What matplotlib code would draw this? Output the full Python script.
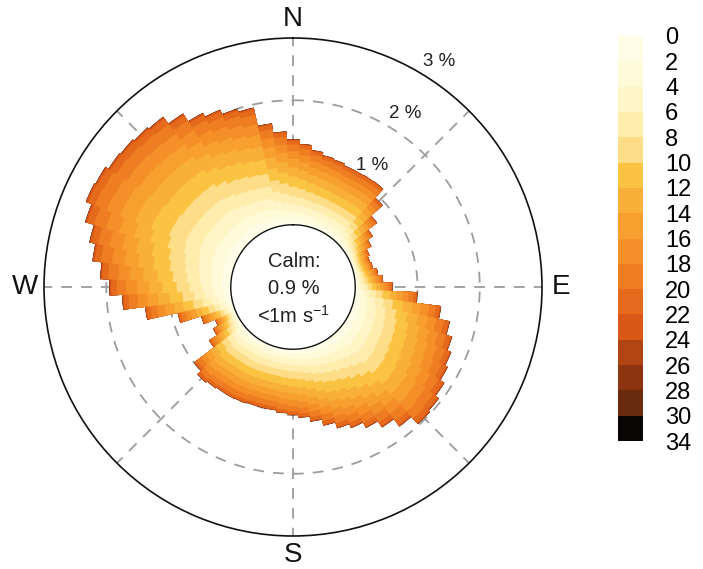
import numpy as np
import matplotlib
matplotlib.use('Agg')
import matplotlib.pyplot as plt

plt.rcParams['font.family'] = ['Liberation Sans', 'DejaVu Sans']
plt.rcParams['mathtext.fontset'] = 'custom'
plt.rcParams['mathtext.rm'] = 'Liberation Sans'
plt.rcParams['mathtext.it'] = 'Liberation Sans'

# wind direction sectors (5 deg) and total frequency (%) per sector
directions = np.arange(0, 360, 5)
sector_total = [1.37, 1.30, 1.22, 1.17, 1.15, 1.12, 1.12, 1.13, 1.14,   # 0-40
                0.95, 0.70, 0.52, 0.42, 0.33, 0.30, 0.32, 0.38, 0.45,   # 45-85
                0.60, 1.00, 1.40, 1.58, 1.68, 1.75, 1.80, 1.88, 1.95,   # 90-130
                1.98, 1.82, 1.67, 1.55, 1.45, 1.38, 1.28, 1.18, 1.10,   # 135-175
                1.06, 1.03, 1.00, 1.00, 1.00, 1.02, 1.03, 1.03, 1.05,   # 180-220
                1.08, 1.00, 0.60, 0.45, 0.36, 0.55, 0.90, 1.40, 1.75,   # 225-265
                1.95, 2.10, 2.25, 2.35, 2.50, 2.60, 2.58, 2.52, 2.50,   # 270-310
                2.47, 2.44, 2.30, 2.15, 2.08, 2.00, 1.95, 1.65, 1.50]   # 315-355

# wind speed classes (m/s) and the share of each class
speed_breaks = [0, 2, 4, 6, 8, 10, 12, 14, 16, 18, 20, 22, 24, 26, 28, 30, 34]
speed_share = [0.07, 0.08, 0.09, 0.10, 0.11, 0.12, 0.11, 0.10,
               0.09, 0.08, 0.045, 0.012, 0.002, 0.001, 0.0005, 0.0002]
bin_colours = ['#FFFDE6', '#FFFAD8', '#FFF5C6', '#FFEDAE', '#FDDD88',
               '#FAC442', '#F8B03A', '#F7A030', '#F58F28', '#EF7D22',
               '#E66A1C', '#D95818', '#B04412', '#8C3410', '#6A2A0E',
               '#080504']
calm_pct = 0.9
rings = [1, 2, 3]

fig = plt.figure(figsize=(7.03, 5.69), dpi=100)
ax = fig.add_axes([0.0626, 0.058, 0.7084, 0.8752], projection='polar')
ax.set_theta_zero_location('N')
ax.set_theta_direction(-1)
offset = 1.0  # calm circle radius in % units
ax.set_ylim(0, offset + 3)
ax.grid(False)
ax.set_xticks([])
ax.set_yticks([])
ax.spines['polar'].set_linewidth(1.2)
ax.spines['polar'].set_color('#111111')

# dashed grid
full = np.linspace(0, 2 * np.pi, 400)
for r in rings[:2]:
    ax.plot(full, np.full_like(full, offset + r), color='#9c9c9c', lw=1.3,
            ls=(0, (6, 5)), zorder=1)
for a in range(0, 360, 45):
    ax.plot([np.deg2rad(a)] * 2, [offset, offset + 3], color='#9c9c9c',
            lw=1.3, ls=(0, (6, 5)), zorder=1)

# stacked rose: cumulative bars, outermost class drawn first (lowest)
theta = np.deg2rad(directions)
width = np.deg2rad(5.3)
totals = np.array(sector_total)
share = np.array(speed_share) / np.sum(speed_share)
cum = np.cumsum(share)
for k in range(len(share) - 1, -1, -1):
    ax.bar(theta, totals * cum[k], width=width, bottom=offset,
           color=bin_colours[k], linewidth=0, zorder=2.1 - k * 0.001)

# calm circle
ax.fill(full, np.full_like(full, offset), color='white', zorder=3)
ax.plot(full, np.full_like(full, offset), color='#111111', lw=1.0, zorder=4)
ax.annotate('Calm:', (0, 0), xytext=(1, 26), textcoords='offset pixels',
            ha='center', va='center', fontsize=14.5, color='#222222', zorder=5)
ax.annotate(f'{calm_pct} %', (0, 0), xytext=(1, -1), textcoords='offset pixels',
            ha='center', va='center', fontsize=14.5, color='#222222', zorder=5)
ax.annotate('<1m s$^{-1}$', (0, 0), xytext=(1, -29), textcoords='offset pixels',
            ha='center', va='center', fontsize=14.5, color='#222222', zorder=5)

# ring labels
for r in rings:
    ax.text(np.deg2rad(33), offset + r + 0.32, f'{r} %', ha='center',
            va='center', fontsize=13.5, color='#222222')

# compass labels
for lab, a in zip(['N', 'E', 'S', 'W'], [0, 90, 180, 270]):
    ax.text(np.deg2rad(a), 4.3, lab, ha='center', va='center',
            fontsize=20, color='#111111')

# colour key
cax = fig.add_axes([618 / 703, 128 / 569, 25 / 703, 405 / 569])
cax.bar(np.zeros(len(bin_colours)), np.ones(len(bin_colours)), width=1,
        bottom=np.arange(len(bin_colours)), color=bin_colours, align='center')
cax.set_xlim(-0.5, 0.5)
cax.set_ylim(len(bin_colours), 0)
cax.set_xticks([])
cax.set_yticks(np.arange(len(speed_breaks)))
cax.set_yticklabels([str(b) for b in speed_breaks], fontsize=17)
cax.yaxis.tick_right()
cax.tick_params(axis='y', length=0, pad=16)
for s in cax.spines.values():
    s.set_visible(False)

fig.savefig('out.png', dpi=100)
